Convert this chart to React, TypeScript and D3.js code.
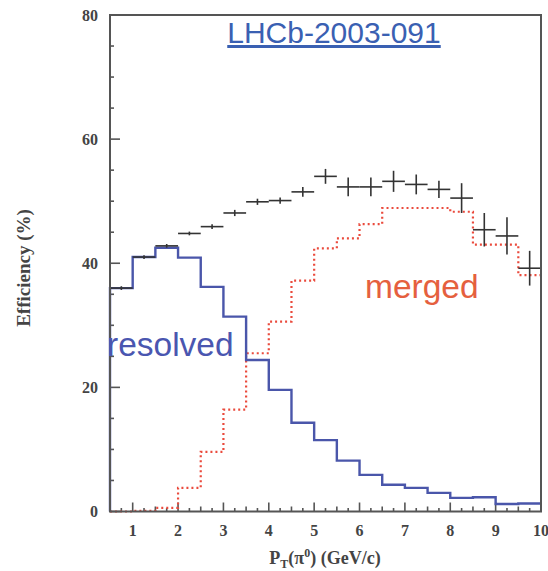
import React from "react";
import * as d3 from "d3";

const binEdges = [0.5, 1, 1.5, 2, 2.5, 3, 3.5, 4, 4.5, 5, 5.5, 6, 6.5, 7, 7.5, 8, 8.5, 9, 9.5, 10];
const resolved = [36.0, 41.0, 42.5, 40.9, 36.2, 31.4, 24.4, 19.6, 14.3, 11.5, 8.2, 5.9, 4.3, 3.8, 3.0, 2.2, 2.3, 1.2, 1.3];
const merged = [0.0, 0.1, 0.6, 3.8, 9.6, 16.4, 25.5, 30.6, 37.2, 42.4, 44.0, 46.3, 48.9, 48.9, 48.9, 48.3, 43.0, 43.0, 38.1];
const totalX = [0.75, 1.25, 1.75, 2.25, 2.75, 3.25, 3.75, 4.25, 4.75, 5.25, 5.75, 6.25, 6.75, 7.25, 7.75, 8.25, 8.75, 9.25, 9.75];
const totalY = [36.0, 41.0, 42.8, 44.8, 45.9, 48.1, 49.9, 50.1, 51.5, 54.0, 52.3, 52.3, 53.2, 52.7, 51.9, 50.5, 45.4, 44.4, 39.2];
const totalErr = [0.3, 0.3, 0.3, 0.3, 0.4, 0.5, 0.5, 0.5, 0.8, 1.2, 1.5, 1.5, 1.7, 1.6, 1.4, 2.4, 2.7, 3.0, 2.8];
const xTicks = [1, 2, 3, 4, 5, 6, 7, 8, 9, 10];
const yTicks = [0, 20, 40, 60, 80];

export default function App() {
  const L = 110, R = 541, T = 15, B = 511.5;
  const x = d3.scaleLinear().domain([0.5, 10]).range([L, R]);
  const y = d3.scaleLinear().domain([0, 80]).range([B, T]);

  const stepPath = (vals: number[]) => {
    const pts: [number, number][] = [[binEdges[0], 0]];
    vals.forEach((v, i) => {
      pts.push([binEdges[i], v]);
      pts.push([binEdges[i + 1], v]);
    });
    return d3.line<[number, number]>().x((d) => x(d[0])).y((d) => y(d[1]))(pts) || "";
  };

  const minorX = d3.range(0.5, 10.001, 0.25);
  const minorY = d3.range(0, 80.001, 5);
  const axisColor = "#555";
  const serif = "'Liberation Serif', 'DejaVu Serif', serif";
  const sans = "'Liberation Sans', Arial, sans-serif";

  return (
    <svg width={548} height={571} style={{ position: "absolute", left: 0, top: 0, background: "#fff" }}>
      {/* ticks */}
      {minorX.map((t, i) => {
        const isMajor = Math.abs(t - Math.round(t)) < 1e-6;
        const isHalf = !isMajor && Math.abs(t * 2 - Math.round(t * 2)) < 1e-6;
        const len = isMajor ? 9 : isHalf ? 5 : 3.5;
        return <line key={"xt" + i} x1={x(t)} x2={x(t)} y1={B} y2={B - len} stroke={axisColor} strokeWidth={1.6} />;
      })}
      {minorY.map((t, i) => {
        const isMajor = t % 20 === 0;
        const len = isMajor ? 10 : 4;
        return <line key={"yt" + i} x1={L} x2={L + len} y1={y(t)} y2={y(t)} stroke={axisColor} strokeWidth={1.6} />;
      })}
      {/* merged */}
      <path d={stepPath(merged)} fill="none" stroke="#ea4a3c" strokeWidth={2.2} strokeDasharray="2 3" />
      {/* resolved */}
      <path d={stepPath(resolved)} fill="none" stroke="#4a56aa" strokeWidth={2.4} />
      {/* total points */}
      {totalX.map((xv, i) => (
        <g key={"p" + i} stroke="#333" strokeWidth={1.6}>
          <line x1={x(xv - 0.25)} x2={x(xv + 0.25)} y1={y(totalY[i])} y2={y(totalY[i])} />
          <line x1={x(xv)} x2={x(xv)} y1={y(totalY[i] - totalErr[i])} y2={y(totalY[i] + totalErr[i])} />
        </g>
      ))}
      {/* frame */}
      <rect x={L} y={T} width={R - L} height={B - T} fill="none" stroke={axisColor} strokeWidth={2} />
      {/* tick labels */}
      {xTicks.map((t) => (
        <text key={"xl" + t} x={x(t)} y={536} textAnchor="middle" fontFamily={serif} fontWeight="bold" fontSize={16} fill="#444">
          {t}
        </text>
      ))}
      {yTicks.map((t) => (
        <text key={"yl" + t} x={98} y={y(t) + 5.5} textAnchor="end" fontFamily={serif} fontWeight="bold" fontSize={16} fill="#444">
          {t}
        </text>
      ))}
      {/* axis titles */}
      <text x={325} y={564} textAnchor="middle" fontFamily={serif} fontWeight="bold" fontSize={18} fill="#444">
        P<tspan fontSize={12} dy={4}>T</tspan>
        <tspan dy={-4}>(π</tspan>
        <tspan fontSize={12} dy={-7}>0</tspan>
        <tspan dy={7}>) (GeV/c)</tspan>
      </text>
      <text transform="translate(30,268) rotate(-90)" textAnchor="middle" fontFamily={serif} fontWeight="bold" fontSize={19} fill="#444">
        Efficiency (%)
      </text>
      {/* title */}
      <text x={334} y={43} textAnchor="middle" fontFamily={sans} fontSize={30} fill="#3a60b2" textDecoration="underline">
        LHCb-2003-091
      </text>
      {/* labels */}
      <text x={107} y={356} fontFamily={sans} fontSize={33.5} fill="#4a56b0">
        resolved
      </text>
      <text x={365} y={298} fontFamily={sans} fontSize={33.5} fill="#e5603e">
        merged
      </text>
    </svg>
  );
}
